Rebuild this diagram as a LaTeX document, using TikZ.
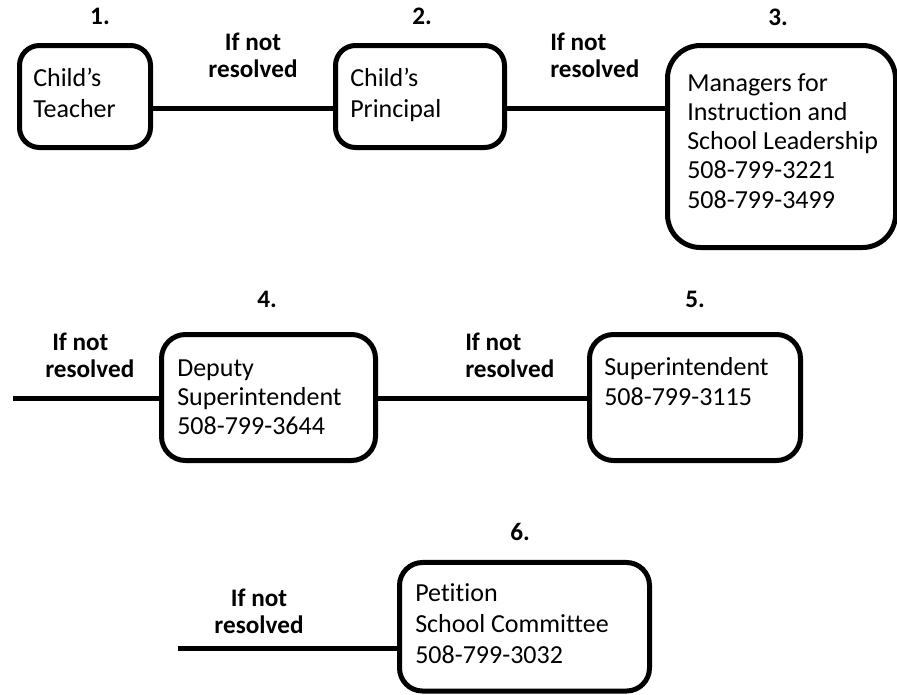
\documentclass[tikz,border=0pt]{standalone}
\usepackage{fontspec}
\setmainfont{Carlito}[Ligatures=NoCommon]
\begin{document}
\begin{tikzpicture}[x=0.75pt,y=-0.75pt,
  box/.style={draw, line width=3.75pt, inner sep=0pt, rounded corners=#1},
  box/.default=15pt,
  conn/.style={line width=3.75pt},
  txt/.style={anchor=base west, inner sep=0pt, align=left, font=\fontsize{19.5pt}{22.9pt}\selectfont},
  num/.style={anchor=base, inner sep=0pt, font=\fontsize{18.9pt}{22pt}\selectfont\bfseries},
  lab/.style={inner sep=0pt, font=\fontsize{18.9pt}{20.25pt}\selectfont\bfseries}]
\useasboundingbox (0,0) rectangle (897,694);
\clip (0,0) rectangle (897,694);
% boxes
\node[box=15pt, minimum width=98.25pt, minimum height=76.5pt] (b1) at (85,96.5) {};
\node[box=15pt, minimum width=126.75pt, minimum height=76.5pt] (b2) at (420,96.5) {};
\node[box=24.75pt, minimum width=171pt, minimum height=151.5pt] (b3) at (781.5,146.5) {};
\node[box=18pt, minimum width=160.5pt, minimum height=94.5pt] (b4) at (268.5,397.5) {};
\node[box=18pt, minimum width=158.25pt, minimum height=94.5pt] (b5) at (695,397.5) {};
\node[box=17.25pt, minimum width=187.5pt, minimum height=96.4pt] (b6) at (524.5,626.75) {};
% box texts (base = baseline of last line)
\node[txt] (t1) at (33,117) {Child’s\\Teacher};
\node[txt] (t2) at (350,117) {Child’s\\Principal};
\node[txt, font=\fontsize{19.5pt}{21.9pt}\selectfont] (t3) at (687,208) {Managers for\\Instruction and\\School Leadership\\508-799-3221\\508-799-3499};
\node[txt, font=\fontsize{19.5pt}{21.75pt}\selectfont] (t4) at (177,434) {Deputy\\Superintendent\\508-799-3644};
\node[txt, font=\fontsize{19.5pt}{22.5pt}\selectfont] (t5) at (604,405) {Superintendent\\508-799-3115};
\node[txt] (t6) at (415,663) {Petition\\School Committee\\508-799-3032};
% step numbers
\node[num] (n1) at (100,24) {1.};
\node[num] (n2) at (422,24) {2.};
\node[num] (n3) at (778,25) {3.};
\node[num] (n4) at (267,307) {4.};
\node[num] (n5) at (695,307) {5.};
\node[num] (n6) at (520,540) {6.};
% labels
\node[lab, anchor=base, align=center] (l1) at (253,77) {If not\\resolved};
\node[lab, anchor=base west, align=left] (l2) at (550,77) {If not\\resolved};
\node[lab, anchor=base west, align=left] (l3) at (45,377) {\hspace*{5.25pt}If not\\resolved};
\node[lab, anchor=base west, align=left] (l4) at (465,377) {If not\\resolved};
\node[lab, anchor=base, align=center] (l5) at (259,633) {If not\\resolved};
% connectors
\coordinate (y1) at (0,108);
\coordinate (s4) at (13,398);
\coordinate (s6) at (178,648);
\draw[conn] (b1.east |- y1) -- (b2.west |- y1);
\draw[conn] (b2.east |- y1) -- (b3.west |- y1);
\draw[conn] (s4) -- (b4.west |- s4);
\draw[conn] (b4.east |- s4) -- (b5.west |- s4);
\draw[conn] (s6) -- (b6.west |- s6);
\end{tikzpicture}
\end{document}
